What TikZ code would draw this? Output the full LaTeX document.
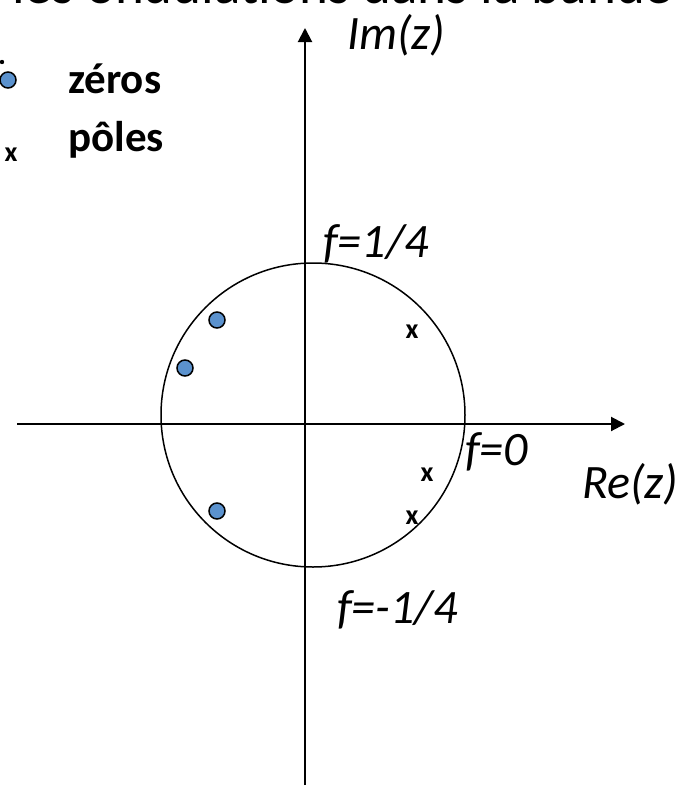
\documentclass[tikz,border=0pt]{standalone}
\usepackage{fontspec}
\setmainfont{Carlito}
\usetikzlibrary{arrows.meta}
\definecolor{zerofill}{RGB}{91,146,206}
\begin{document}
\begin{tikzpicture}[x=1pt,y=-1pt,
 axis/.style={line width=2pt,-{Triangle[length=14pt,width=14pt]}},
 zero/.style={circle,draw,line width=1.5pt,fill=zerofill,minimum size=16pt,inner sep=0pt},
 pole/.style={inner sep=0pt,font=\fontsize{28}{28}\selectfont\bfseries},
 lab/.style={inner sep=0pt,anchor=base west,font=\fontsize{48}{48}\selectfont\itshape},
 leg/.style={inner sep=0pt,anchor=base west,font=\fontsize{43}{43}\selectfont\bfseries}]
\useasboundingbox (0,0) rectangle (684,787);
\fill[white] (0,0) rectangle (684,787);
\begin{scope}
\clip (0,0) rectangle (684,787);
\node[inner sep=0pt,anchor=base west,font=\fontsize{55}{55}\selectfont] (title) at (12,4) {\llap{Toutes }les ondulations dans la bande passante};
\end{scope}
% axes
\coordinate (ybot) at (305,785);
\coordinate (ytop) at (305,28);
\draw[axis] (ybot) -- (ytop);
\coordinate (xleft) at (17,424);
\coordinate (xright) at (625,424);
\draw[axis] (xleft) -- (xright);
% unit circle
\node[draw,circle,minimum size=304pt,line width=1.5pt,inner sep=0pt] (uc) at (313,415) {};
% zeros
\node[zero] (z1) at (217,320) {};
\node[zero] (z2) at (185,368) {};
\node[zero] (z3) at (217,511) {};
% poles
\node[pole] (p1) at (412,332) {x};
\node[pole] (p2) at (427,475) {x};
\node[pole] (p3) at (412,518) {x};
% labels
\node[lab] (im) at (347,49) {Im(z)};
\node[lab] (f14) at (323,257) {f=1/4};
\node[lab] (f0) at (465,465) {f=0};
\node[lab] (re) at (582,498) {Re(z)};
\node[lab] (fm14) at (337,623) {f=-1/4};
% legend
\fill (2,62) circle[radius=2.2];
\node[zero] (zl) at (8,80) {};
\node[pole] (pl) at (11,155) {x};
\node[leg] (lz) at (68,93) {zéros};
\node[leg] (lp) at (68,151) {pôles};
\end{tikzpicture}
\end{document}
